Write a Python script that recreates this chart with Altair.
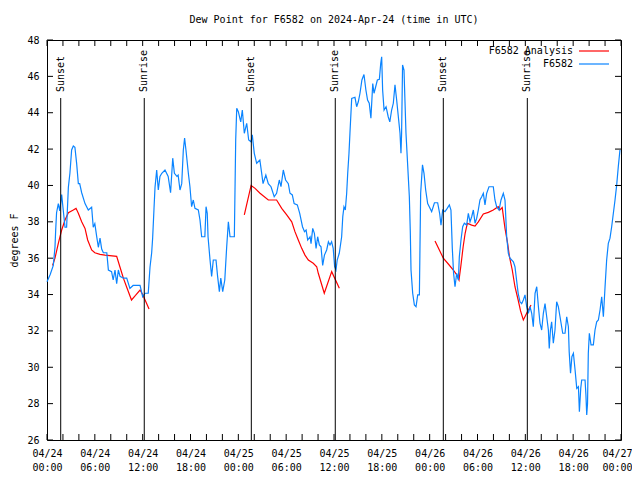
import json
import altair as alt
import pandas as pd

# ---------------- data ----------------
obs_hours = [0.0, 0.4, 0.79, 1.0, 1.09, 1.2, 1.42, 1.6, 1.84, 2.0, 2.26, 2.46, 2.68, 2.88, 3.09, 3.3, 3.5, 3.72,
             3.93, 4.1, 4.35, 4.77, 5.18, 5.6, 5.8, 6.0, 6.23, 6.44, 6.65, 6.86, 7.07, 7.5, 7.7, 8.1, 8.3, 8.53,
             8.74, 8.95, 9.16, 9.58, 10.0, 10.4, 10.8, 11.67, 12.0, 12.3, 12.7, 12.92, 13.13, 13.25, 13.42, 13.55,
             13.76, 13.96, 14.17, 14.4, 14.8, 15.2, 15.4, 15.5, 15.77, 15.98, 16.3, 16.45, 16.68, 16.9, 17.1, 17.26,
             17.43, 17.73, 17.93, 18.14, 18.35, 18.56, 18.98, 19.19, 19.4, 19.8, 19.95, 20.1, 20.2, 20.45, 20.65,
             20.86, 21.2, 21.4, 21.62, 21.8, 22.04, 22.3, 22.54, 22.75, 22.96, 23.5, 23.67, 23.8, 24.0, 24.3, 24.5,
             24.75, 25.05, 25.3, 25.6, 25.75, 26.0, 26.3, 26.7, 26.9, 27.1, 27.45, 27.76, 28.1, 28.5, 28.8, 29.14,
             29.35, 29.64, 29.93, 30.27, 30.48, 30.77, 31.0, 31.4, 31.7, 32.05, 32.3, 32.5, 32.7, 33.0, 33.12, 33.33,
             33.54, 33.75, 33.95, 34.16, 34.37, 34.58, 34.8, 35.08, 35.3, 35.5, 35.7, 35.9, 36.08, 36.25, 36.4,
             36.66, 36.96, 37.1, 37.25, 37.42, 37.59, 37.72, 37.88, 38.0, 38.22, 38.63, 38.84, 39.05, 39.26, 39.5,
             39.76, 40.0, 40.21, 40.42, 40.63, 40.86, 41.02, 41.23, 41.44, 41.69, 41.86, 41.98, 42.1, 42.28, 42.53,
             42.8, 43.0, 43.23, 43.44, 43.65, 43.86, 44.07, 44.28, 44.4, 44.48, 44.6, 44.78, 45.03, 45.24, 45.45,
             45.57, 45.66, 45.87, 46.08, 46.29, 46.5, 46.71, 46.87, 47.1, 47.29, 47.5, 47.75, 47.95, 48.25, 48.6,
             49.0, 49.25, 49.42, 49.63, 49.92, 50.2, 50.47, 50.67, 50.84, 51.0, 51.18, 51.39, 51.6, 51.72, 51.93,
             52.14, 52.35, 52.64, 52.85, 53.06, 53.27, 53.48, 53.69, 53.9, 54.1, 54.31, 54.53, 54.73, 54.94, 55.15,
             55.44, 55.98, 56.19, 56.4, 56.7, 56.95, 57.24, 57.45, 57.66, 57.87, 58.08, 58.5, 58.7, 58.9, 59.1,
             59.33, 59.54, 59.75, 59.96, 60.17, 60.38, 60.59, 60.8, 61.0, 61.22, 61.43, 61.64, 61.84, 62.05, 62.26,
             62.47, 62.68, 62.89, 63.0, 63.15, 63.3, 63.51, 63.72, 63.93, 64.14, 64.35, 64.69, 64.98, 65.19, 65.4,
             65.5, 65.67, 65.84, 66.03, 66.24, 66.45, 66.66, 66.78, 66.95, 67.07, 67.49, 67.6, 67.7, 67.8, 67.9,
             68.03, 68.24, 68.53, 68.74, 68.95, 69.16, 69.37, 69.58, 69.79, 70.0, 70.2, 70.41, 70.62, 70.83, 71.04,
             71.25, 71.46, 71.66, 71.87]
obs_values = [34.7, 35.1, 35.6, 36.6, 37.55, 38.5, 39.0, 38.6, 39.5, 38.8, 37.7, 37.7, 39.9, 40.7, 41.95, 42.17, 42.1,
              41.2, 40.1, 40.1, 39.6, 39.0, 38.65, 38.8, 37.7, 37.9, 37.2, 36.6, 37.1, 36.5, 36.3, 36.3, 35.35, 35.26,
              34.8, 35.35, 34.6, 35.35, 35.0, 34.9, 34.9, 34.34, 34.5, 34.5, 33.88, 34.07, 34.07, 35.5, 36.3, 37.1,
              38.7, 39.9, 40.85, 39.75, 40.5, 40.67, 40.85, 40.5, 39.9, 39.6, 41.5, 40.67, 40.5, 40.57, 39.75, 40.1,
              41.95, 42.6, 41.95, 40.67, 39.93, 38.83, 39.2, 38.74, 38.65, 38.1, 37.18, 37.18, 38.83, 38.47, 37.18,
              35.9, 35.0, 35.9, 35.9, 35.0, 34.16, 34.9, 34.16, 34.8, 36.63, 38.0, 37.18, 37.18, 42.5, 44.24, 44.06,
              43.5, 44.15, 42.87, 43.42, 42.5, 42.4, 42.78, 41.77, 41.22, 41.4, 40.76, 40.1, 40.57, 40.1, 39.93,
              39.38, 39.57, 40.3, 39.93, 40.85, 40.3, 40.1, 39.57, 39.48, 39.0, 38.93, 38.47, 37.73, 37.46, 37.55,
              37.0, 37.18, 36.8, 37.64, 37.37, 36.54, 37.18, 36.73, 36.63, 35.6, 36.17, 36.45, 36.9, 36.73, 36.9,
              36.54, 35.53, 35.35, 35.9, 36.27, 37.18, 38.28, 38.83, 38.65, 39.57, 40.67, 41.77, 42.87, 44.79, 44.85,
              44.33, 44.6, 45.07, 45.8, 46.1, 45.25, 44.7, 44.52, 43.7, 45.6, 45.07, 45.43, 45.8, 45.84, 46.7, 47.08,
              45.25, 44.15, 44.33, 43.78, 43.5, 44.15, 44.52, 45.53, 44.7, 43.78, 42.87, 41.77, 42.87, 46.63, 46.35,
              42.87, 41.13, 39.38, 37.46, 35.35, 34.07, 33.43, 33.33, 33.98, 33.98, 39.57, 41.13, 40.67, 39.75, 39.0,
              38.83, 38.56, 39.05, 39.05, 38.47, 37.82, 38.65, 38.56, 38.74, 38.93, 38.65, 36.54, 35.17, 34.43, 35.17,
              34.8, 36.08, 37.0, 37.73, 37.92, 37.82, 38.47, 38.0, 38.28, 38.65, 37.92, 38.2, 38.65, 39.2, 39.38,
              39.57, 38.93, 39.57, 39.93, 39.93, 39.2, 38.83, 38.65, 39.2, 39.57, 39.2, 37.18, 36.27, 36.0, 35.8,
              35.53, 34.8, 34.07, 33.6, 33.5, 33.7, 33.98, 33.33, 32.97, 33.33, 32.97, 32.23, 34.07, 34.43, 33.33,
              32.42, 32.05, 32.97, 33.5, 32.78, 32.05, 31.04, 32.05, 32.5, 31.32, 32.05, 33.6, 33.33, 32.78, 31.87,
              31.87, 32.78, 32.23, 30.86, 29.67, 30.58, 30.77, 29.85, 28.84, 28.93, 27.56, 28.84, 29.3, 29.3, 28.48,
              27.38, 28.0, 30.77, 31.87, 31.23, 31.23, 32.05, 32.5, 32.6, 33.15, 33.88, 32.78, 34.43, 35.9, 36.82,
              37.1, 37.73, 38.47, 39.2, 40.03, 41.03, 41.95]

ana1_hours = [0.7, 1.0, 1.42, 1.84, 2.26, 2.68, 3.3, 3.64, 3.93, 4.35, 4.77, 5.1, 5.6, 6.0, 6.65, 7.28, 8.74,
              9.16, 9.58, 10.0, 10.6, 11.1, 11.67, 12.0, 12.8]
ana1_values = [35.6, 36.0, 36.82, 37.55, 38.1, 38.5, 38.65, 38.74, 38.47, 38.0, 37.64, 37.0, 36.45, 36.3, 36.21,
               36.17, 36.1, 35.5, 34.9, 34.4, 33.7, 33.95, 34.25, 34.0, 33.2]
ana2_hours = [24.75, 25.6, 26.1, 26.72, 27.76, 28.8, 29.44, 30.07, 30.7, 31.1, 31.52, 31.95, 32.36, 32.78, 33.4,
              33.83, 34.03, 34.78, 35.71, 36.67]
ana2_values = [38.38, 40.0, 39.84, 39.57, 39.2, 39.2, 38.74, 38.38, 38.0, 37.46, 37.0, 36.54, 36.17, 35.9, 35.72,
               35.53, 35.17, 34.07, 35.26, 34.34]
ana3_hours = [48.67, 49.71, 50.34, 50.97, 51.4, 51.68, 51.9, 52.2, 52.45, 52.72, 53.27, 53.69, 54.1, 54.73, 55.36,
              55.98, 56.6, 56.8, 57.1, 57.45, 57.78, 58.0, 58.36, 58.7, 59.1, 59.4, 59.75, 60.2, 60.71]
ana3_values = [36.95, 36.0, 35.68, 35.35, 35.08, 34.8, 35.53, 36.63, 37.37, 37.92, 37.82, 37.77, 38.0, 38.43, 38.52,
               38.65, 38.83, 38.65, 38.78, 37.64, 36.82, 36.1, 35.35, 34.43, 33.7, 33.1, 32.6, 33.0, 33.43]

sun_hours = [1.72, 12.2, 25.63, 36.16, 49.71, 60.25]
sun_labels = ["Sunset", "Sunrise", "Sunset", "Sunrise", "Sunset", "Sunrise"]

x_ticks = list(range(0, 73, 2))
date_labels = ["04/24", "04/24", "04/24", "04/24", "04/25", "04/25", "04/25", "04/25",
               "04/26", "04/26", "04/26", "04/26", "04/27"]
time_labels = ["00:00", "06:00", "12:00", "18:00", "00:00", "06:00", "12:00", "18:00",
               "00:00", "06:00", "12:00", "18:00", "00:00"]
y_ticks = list(range(26, 49, 2))

series_names = ["F6582 Analysis", "F6582"]
series_colors = ["#ff0000", "#0a84ff"]

# ---------------- tables ----------------
obs_df = pd.DataFrame({"h": obs_hours, "v": obs_values, "series": series_names[1], "seg": 0})
ana_df = pd.concat([
    pd.DataFrame({"h": ana1_hours, "v": ana1_values, "series": series_names[0], "seg": 1}),
    pd.DataFrame({"h": ana2_hours, "v": ana2_values, "series": series_names[0], "seg": 2}),
    pd.DataFrame({"h": ana3_hours, "v": ana3_values, "series": series_names[0], "seg": 3}),
], ignore_index=True)
sun_df = pd.DataFrame({"h": sun_hours, "label": sun_labels})
xt_df = pd.DataFrame({"h": x_ticks})
yt_df = pd.DataFrame({"v": y_ticks})

W, H = 574, 400
FONT = "DejaVu Sans Mono"
TICK = 6
LW = 1.2

x_scale = alt.Scale(domain=[0, 72], nice=False, zero=False)
y_scale = alt.Scale(domain=[26, 48], nice=False, zero=False)

label_expr = ("datum.value % 6 == 0 ? [" + json.dumps(date_labels) + "[datum.value/6], "
              + json.dumps(time_labels) + "[datum.value/6]] : ''")

x_axis = alt.Axis(values=x_ticks, labelExpr=label_expr, ticks=False, tickSize=0, domain=False, grid=False,
                  labelFont=FONT, labelFontSize=10, labelColor="black", labelPadding=8, labelLineHeight=14,
                  labelAngle=0, labelFlush=False, labelOverlap=False, labelBound=False, title=None,
                  labelOffset={"condition": {"test": "datum.value == 72", "value": -4}, "value": 0})
y_axis = alt.Axis(values=y_ticks, ticks=False, tickSize=0, domain=False, grid=False, labelFont=FONT,
                  labelFontSize=10, labelColor="black", labelPadding=8, labelFlush=False, labelOverlap=False,
                  title="degrees F", titleFont=FONT, titleFontSize=10, titleFontWeight="normal",
                  titleColor="black", titleAngle=270, titleX=-33, titleY=200, titleAlign="center",
                  titleBaseline="middle")

X = alt.X("h:Q", scale=x_scale, axis=x_axis)
Y = alt.Y("v:Q", scale=y_scale, axis=y_axis)

color = alt.Color("series:N", scale=alt.Scale(domain=series_names, range=series_colors),
                  legend=alt.Legend(title=None, orient="none", legendX=541, legendY=5, direction="vertical",
                                    symbolType="M-3,0H3", symbolSize=100, symbolStrokeWidth=LW,
                                    symbolFillColor="transparent",
                                    labelAlign="right", labelOffset={"expr": "-27"}, labelFont=FONT,
                                    labelFontSize=10, labelColor="black", padding=0,
                                    rowPadding=2, labelLimit=0))

ana = alt.Chart(ana_df).mark_line(strokeWidth=LW).encode(x=X, y=Y, color=color, detail="seg:N", order="h:Q")
obs = alt.Chart(obs_df).mark_line(strokeWidth=LW).encode(x=X, y=Y, color=color, order="h:Q")

sun_rule = alt.Chart(sun_df).mark_rule(color="black", strokeWidth=1).encode(
    x=X, y=alt.value(58), y2=alt.value(H))
sun_text = alt.Chart(sun_df).mark_text(angle=270, align="left", baseline="middle", font=FONT, fontSize=10,
                                       color="black").encode(x=X, y=alt.value(52), text="label:N")

xt_bottom = alt.Chart(xt_df).mark_rule(color="black", strokeWidth=1).encode(
    x=X, y=alt.value(H), y2=alt.value(H - TICK))
xt_top = alt.Chart(xt_df).mark_rule(color="black", strokeWidth=1).encode(
    x=X, y=alt.value(0), y2=alt.value(TICK))
yt_left = alt.Chart(yt_df).mark_rule(color="black", strokeWidth=1).encode(
    y=Y, x=alt.value(0), x2=alt.value(TICK))
yt_right = alt.Chart(yt_df).mark_rule(color="black", strokeWidth=1).encode(
    y=Y, x=alt.value(W), x2=alt.value(W - TICK))

chart = alt.layer(ana, obs, sun_rule, sun_text, xt_bottom, xt_top, yt_left, yt_right).properties(
    width=W, height=H,
    title=alt.TitleParams("Dew Point for F6582 on 2024-Apr-24 (time in UTC)", font=FONT, fontSize=10,
                          fontWeight="normal", color="black", anchor="middle", offset=10),
    autosize=alt.AutoSizeParams(type="none"),
    padding={"left": 39, "top": 32, "right": 11, "bottom": 32},
    background="white",
).configure_view(stroke="black", strokeWidth=1)

chart.save("out.html", embed_options={"renderer": "svg", "actions": False})
